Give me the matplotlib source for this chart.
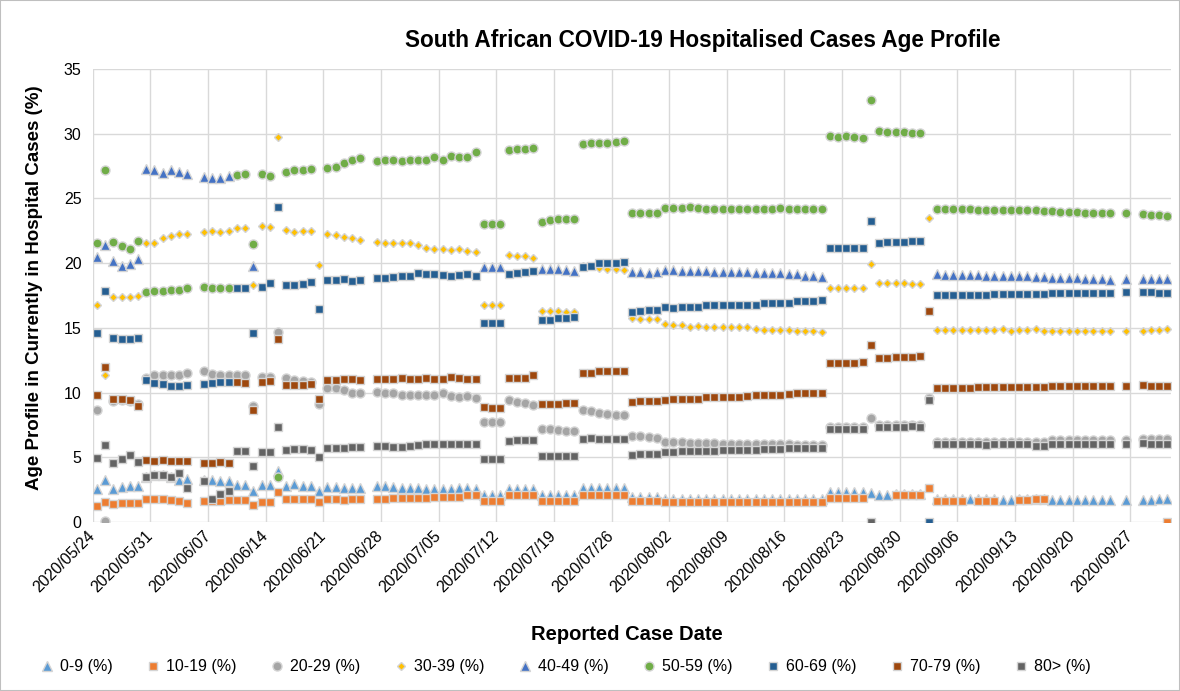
import numpy as np
import pandas as pd
import matplotlib
matplotlib.use("Agg")
import matplotlib.pyplot as plt
from matplotlib.patches import Rectangle

plt.rcParams['font.family'] = ['Liberation Sans', 'DejaVu Sans']

n = np.nan

# one value per day, 2020/05/24 .. 2020/10/01, rows are weeks
dates = pd.date_range('2020-05-24', '2020-10-01', freq='D')

age_0_9 = [
    2.56, 3.26, 2.54, 2.72, 2.77, 2.77, 3.45,
    3.60, 3.60, 3.50, 3.28, 3.33, n, 3.28,
    3.26, 3.20, 3.15, 2.87, 2.87, 2.38, 2.87,
    2.87, 3.93, 2.82, 2.92, 2.82, 2.82, 2.41,
    2.69, 2.69, 2.64, 2.64, 2.59, n, 2.77,
    2.82, 2.69, 2.59, 2.59, 2.59, 2.54, 2.54,
    2.54, 2.54, 2.59, 2.59, 2.54, 2.10, 2.10,
    2.10, 2.54, 2.54, 2.54, 2.54, 2.05, 2.05,
    2.05, 2.05, 2.05, 2.60, 2.60, 2.60, 2.60,
    2.60, 2.60, 1.90, 1.90, 1.90, 1.90, 1.75,
    1.75, 1.75, 1.75, 1.75, 1.75, 1.75, 1.75,
    1.75, 1.75, 1.75, 1.75, 1.75, 1.75, 1.75,
    1.75, 1.75, 1.75, 1.75, 1.75, 2.30, 2.30,
    2.30, 2.30, 2.30, 2.23, 2.05, 2.05, 2.15,
    2.15, 2.15, 2.15, n, 1.75, 1.75, 1.75,
    1.75, 1.74, 1.75, 1.75, 1.75, 1.71, 1.71,
    1.75, 1.75, 1.75, 1.75, 1.71, 1.71, 1.71,
    1.71, 1.71, 1.71, 1.71, 1.71, n, 1.71,
    n, 1.71, 1.71, 1.79, 1.79,
]

age_10_19 = [
    1.22, 1.58, 1.38, 1.50, 1.50, 1.43, 1.74,
    1.79, 1.74, 1.69, 1.63, 1.50, n, 1.63,
    1.63, 1.63, 1.69, 1.69, 1.69, 1.30, 1.58,
    1.58, 2.30, 1.74, 1.79, 1.79, 1.74, 1.58,
    1.74, 1.74, 1.69, 1.79, 1.79, n, 1.79,
    1.79, 1.84, 1.84, 1.84, 1.84, 1.84, 1.92,
    1.97, 1.92, 1.92, 2.12, 2.05, 1.63, 1.63,
    1.63, 2.05, 2.12, 2.05, 2.05, 1.63, 1.63,
    1.63, 1.63, 1.63, 2.10, 2.10, 2.10, 2.10,
    2.10, 2.10, 1.60, 1.60, 1.60, 1.60, 1.58,
    1.58, 1.58, 1.58, 1.58, 1.58, 1.58, 1.58,
    1.58, 1.58, 1.53, 1.58, 1.53, 1.53, 1.53,
    1.53, 1.53, 1.53, 1.53, 1.53, 1.89, 1.89,
    1.89, 1.89, 1.89, n, n, n, 2.05,
    2.05, 2.05, 2.05, 2.61, 1.60, 1.60, 1.60,
    1.60, n, 1.66, 1.66, 1.66, n, n,
    1.71, 1.71, 1.79, 1.79, n, n, n,
    n, n, n, n, n, n, n,
    n, n, n, n, 0.00,
]

age_20_29 = [
    8.64, 0.04, 9.35, 9.40, 9.35, 9.10, 11.10,
    11.32, 11.37, 11.37, 11.37, 11.50, n, 11.63,
    11.45, 11.37, 11.37, 11.32, 11.32, 9.00, 11.24,
    11.20, 14.67, 11.10, 11.00, 10.93, 10.85, 9.15,
    10.34, 10.34, 10.21, 9.98, 9.93, n, 10.06,
    9.98, 9.93, 9.85, 9.85, 9.80, 9.85, 9.80,
    9.98, 9.77, 9.64, 9.72, 9.59, 7.69, 7.69,
    7.69, 9.39, 9.28, 9.23, 9.05, 7.22, 7.15,
    7.09, 7.02, 7.02, 8.64, 8.59, 8.43, 8.38,
    8.30, 8.30, 6.68, 6.63, 6.55, 6.50, 6.17,
    6.17, 6.17, 6.12, 6.12, 6.12, 6.12, 6.06,
    6.06, 6.06, 6.06, 6.06, 6.00, 6.00, 6.00,
    6.00, 5.98, 5.98, 5.98, 5.95, 7.35, 7.35,
    7.35, 7.35, 7.35, 8.07, 7.50, 7.50, 7.50,
    7.50, 7.50, 7.50, 9.60, 6.20, 6.20, 6.20,
    6.20, 6.20, 6.20, 6.20, 6.20, 6.20, 6.20,
    6.20, 6.20, 6.20, 6.20, 6.30, 6.30, 6.30,
    6.30, 6.30, 6.30, 6.30, 6.30, n, 6.30,
    n, 6.45, 6.45, 6.45, 6.45,
]

age_30_39 = [
    16.80, 11.34, 17.37, 17.37, 17.37, 17.50, 21.58,
    21.58, 21.97, 22.10, 22.23, 22.23, n, 22.38,
    22.50, 22.43, 22.48, 22.70, 22.74, 18.30, 22.90,
    22.82, 29.77, 22.56, 22.38, 22.50, 22.50, 19.86,
    22.25, 22.17, 21.99, 21.97, 21.79, n, 21.60,
    21.58, 21.58, 21.53, 21.53, 21.40, 21.15, 21.10,
    21.10, 21.00, 21.07, 20.96, 20.89, 16.80, 16.80,
    16.80, 20.63, 20.55, 20.55, 20.37, 16.34, 16.34,
    16.34, 16.26, 16.26, 19.75, 19.75, 19.60, 19.55,
    19.55, 19.47, 15.75, 15.70, 15.70, 15.70, 15.26,
    15.23, 15.23, 15.10, 15.13, 15.10, 15.05, 15.05,
    15.05, 15.10, 15.10, 14.92, 14.87, 14.87, 14.82,
    14.82, 14.79, 14.74, 14.72, 14.69, 18.05, 18.05,
    18.05, 18.05, 18.05, 19.90, 18.44, 18.44, 18.44,
    18.44, 18.39, 18.39, 23.51, 14.87, 14.87, 14.87,
    14.87, 14.87, 14.87, 14.87, 14.87, 14.92, 14.79,
    14.87, 14.87, 14.92, 14.79, 14.79, 14.74, 14.74,
    14.74, 14.74, 14.79, 14.79, 14.79, n, 14.79,
    n, 14.74, 14.82, 14.82, 14.92,
]

age_40_49 = [
    20.45, 21.40, 20.20, 19.80, 19.93, 20.32, 27.25,
    27.20, 26.94, 27.20, 27.07, 26.86, n, 26.63,
    26.55, 26.60, 26.70, n, n, 19.80, n,
    n, n, n, n, n, n, n,
    n, n, n, n, n, n, n,
    n, n, n, n, n, n, n,
    n, n, n, n, n, 19.68, 19.68,
    19.68, n, n, n, n, 19.55, 19.55,
    19.55, 19.47, 19.42, n, n, n, n,
    n, n, 19.34, 19.29, 19.26, 19.34, 19.47,
    19.47, 19.42, 19.42, 19.42, 19.42, 19.34, 19.34,
    19.34, 19.34, 19.29, 19.21, 19.21, 19.21, 19.21,
    19.14, 19.14, 19.00, 18.98, 18.90, n, n,
    n, n, n, n, n, n, n,
    n, n, n, n, 19.14, 19.06, 19.06,
    19.06, 19.06, 19.06, 19.00, 19.00, 19.00, 19.00,
    19.00, 19.00, 18.96, 18.96, 18.83, 18.83, 18.83,
    18.83, 18.78, 18.78, 18.78, 18.70, n, 18.78,
    n, 18.78, 18.78, 18.78, 18.78,
]

age_50_59 = [
    21.53, 27.20, 21.63, 21.35, 21.07, 21.70, 17.80,
    17.85, 17.85, 17.90, 17.90, 18.10, n, 18.18,
    18.05, 18.05, 18.10, 26.80, 26.90, 21.50, 26.90,
    26.76, 3.46, 27.04, 27.20, 27.20, 27.30, n,
    27.38, 27.43, 27.70, 28.00, 28.12, n, 27.90,
    27.97, 28.00, 27.90, 28.00, 27.94, 27.94, 28.20,
    28.00, 28.24, 28.23, 28.23, 28.59, 23.00, 23.00,
    23.00, 28.74, 28.82, 28.82, 28.87, 23.20, 23.33,
    23.39, 23.39, 23.39, 29.18, 29.26, 29.31, 29.31,
    29.36, 29.44, 23.87, 23.85, 23.85, 23.85, 24.29,
    24.29, 24.29, 24.36, 24.29, 24.21, 24.21, 24.16,
    24.16, 24.16, 24.16, 24.21, 24.21, 24.21, 24.29,
    24.21, 24.21, 24.21, 24.21, 24.21, 29.82, 29.75,
    29.82, 29.75, 29.67, 32.60, 30.20, 30.13, 30.13,
    30.13, 30.08, 30.08, n, 24.21, 24.21, 24.21,
    24.16, 24.16, 24.08, 24.08, 24.08, 24.08, 24.08,
    24.08, 24.08, 24.08, 24.03, 24.03, 23.98, 23.98,
    23.98, 23.90, 23.90, 23.85, 23.85, n, 23.85,
    n, 23.77, 23.72, 23.72, 23.67,
]

age_60_69 = [
    14.59, 17.85, 14.20, 14.12, 14.12, 14.25, 11.00,
    10.73, 10.65, 10.52, 10.47, 10.55, n, 10.65,
    10.73, 10.78, 10.78, 18.10, 18.05, 14.60, 18.18,
    18.44, 24.30, 18.31, 18.31, 18.36, 18.52, 16.47,
    18.72, 18.72, 18.78, 18.60, 18.72, n, 18.83,
    18.83, 18.90, 19.00, 19.00, 19.26, 19.14, 19.14,
    19.08, 19.00, 19.08, 19.14, 19.00, 15.36, 15.40,
    15.40, 19.14, 19.21, 19.29, 19.37, 15.62, 15.62,
    15.75, 15.75, 15.85, 19.73, 19.81, 19.99, 20.04,
    20.04, 20.09, 16.26, 16.34, 16.39, 16.39, 16.60,
    16.54, 16.60, 16.60, 16.65, 16.73, 16.73, 16.73,
    16.73, 16.73, 16.80, 16.80, 16.93, 16.93, 16.93,
    16.93, 17.06, 17.06, 17.06, 17.14, 21.14, 21.14,
    21.14, 21.14, 21.14, 23.25, 21.58, 21.63, 21.63,
    21.63, 21.71, 21.71, 0.00, 17.55, 17.55, 17.55,
    17.55, 17.55, 17.55, 17.55, 17.60, 17.60, 17.60,
    17.60, 17.60, 17.60, 17.60, 17.72, 17.72, 17.72,
    17.72, 17.72, 17.72, 17.72, 17.72, n, 17.75,
    n, 17.75, 17.75, 17.70, 17.70,
]

age_70_79 = [
    9.82, 12.00, 9.49, 9.54, 9.41, 8.95, 4.80,
    4.75, 4.80, 4.75, 4.75, 4.75, n, 4.57,
    4.57, 4.65, 4.57, 10.80, 10.75, 8.66, 10.85,
    10.93, 14.15, 10.62, 10.62, 10.62, 10.70, 9.51,
    10.96, 10.96, 11.03, 11.03, 10.96, n, 11.03,
    11.03, 11.03, 11.16, 11.03, 11.03, 11.10, 11.03,
    11.03, 11.17, 11.11, 11.03, 11.03, 8.87, 8.82,
    8.82, 11.11, 11.11, 11.16, 11.34, 9.10, 9.10,
    9.10, 9.18, 9.23, 11.52, 11.52, 11.63, 11.68,
    11.68, 11.68, 9.31, 9.36, 9.36, 9.36, 9.44,
    9.49, 9.49, 9.54, 9.54, 9.62, 9.67, 9.67,
    9.67, 9.67, 9.75, 9.80, 9.80, 9.80, 9.80,
    9.87, 9.93, 9.93, 9.98, 9.93, 12.32, 12.32,
    12.32, 12.32, 12.40, 13.69, 12.66, 12.66, 12.73,
    12.73, 12.73, 12.79, 16.31, 10.34, 10.34, 10.34,
    10.34, 10.34, 10.42, 10.42, 10.42, 10.42, 10.42,
    10.42, 10.42, 10.42, 10.42, 10.54, 10.54, 10.54,
    10.54, 10.54, 10.54, 10.54, 10.54, n, 10.54,
    n, 10.62, 10.54, 10.54, 10.54,
]

age_80_plus = [
    4.93, 5.93, 4.57, 4.90, 5.14, 4.65, 3.44,
    3.64, 3.64, 3.50, 3.80, 2.66, n, 3.13,
    1.74, 2.20, 2.43, 5.45, 5.45, 4.34, 5.40,
    5.40, 7.33, 5.57, 5.63, 5.63, 5.57, 5.03,
    5.68, 5.68, 5.73, 5.80, 5.80, n, 5.88,
    5.88, 5.80, 5.80, 5.88, 5.93, 6.06, 6.06,
    6.00, 6.06, 6.06, 5.99, 6.06, 4.85, 4.85,
    4.85, 6.22, 6.30, 6.35, 6.35, 5.11, 5.11,
    5.11, 5.11, 5.11, 6.42, 6.50, 6.42, 6.42,
    6.42, 6.42, 5.16, 5.24, 5.29, 5.29, 5.40,
    5.40, 5.45, 5.45, 5.50, 5.50, 5.50, 5.55,
    5.60, 5.60, 5.60, 5.60, 5.65, 5.65, 5.65,
    5.71, 5.73, 5.73, 5.73, 5.73, 7.17, 7.17,
    7.17, 7.17, 7.22, 0.00, 7.35, 7.35, 7.35,
    7.35, 7.43, 7.35, 9.44, 5.99, 5.99, 5.99,
    5.99, 5.99, 5.99, 5.93, 5.99, 5.99, 5.99,
    5.99, 5.99, 5.91, 5.91, 6.06, 6.06, 6.06,
    6.06, 6.06, 6.06, 6.06, 6.06, n, 6.06,
    n, 6.12, 6.06, 6.06, 6.06,
]

series = [
    ('0-9 (%)', age_0_9, '^', '#5B9BD5', 6.5),
    ('10-19 (%)', age_10_19, 's', '#ED7D31', 6),
    ('20-29 (%)', age_20_29, 'o', '#A5A5A5', 6.5),
    ('30-39 (%)', age_30_39, 'D', '#FFC000', 4.5),
    ('40-49 (%)', age_40_49, '^', '#4472C4', 6.5),
    ('50-59 (%)', age_50_59, 'o', '#70AD47', 6.5),
    ('60-69 (%)', age_60_69, 's', '#255E91', 6),
    ('70-79 (%)', age_70_79, 's', '#9E480E', 6),
    ('80> (%)', age_80_plus, 's', '#636363', 6),
]

fig = plt.figure(figsize=(11.8, 6.91), dpi=100)
ax = fig.add_axes([92.7 / 1180, 1 - 522 / 691, (1171.5 - 92.7) / 1180, (522 - 69) / 691])

xpos = dates + pd.Timedelta(hours=12)
for label, vals, mk, col, ms in series:
    ax.plot(xpos, vals, linestyle='none', marker=mk, color=col, markersize=ms,
            markeredgecolor='#d4d4d4', markeredgewidth=1.0, label=label)

ax.set_ylim(0, 35)
ax.set_yticks(np.arange(0, 36, 5))
ax.set_xlim(pd.Timestamp('2020-05-24'), pd.Timestamp('2020-10-02'))
ticks = pd.date_range('2020-05-24', '2020-09-27', freq='7D')
ax.set_xticks(ticks)
ax.set_xticklabels([d.strftime('%Y/%m/%d') for d in ticks], rotation=45,
                   ha='right', va='center', rotation_mode='anchor')
ax.grid(True, color='#d9d9d9', linewidth=1.0)
ax.set_axisbelow(True)
for s in ax.spines.values():
    s.set_visible(False)
ax.tick_params(axis='both', length=0, labelsize=11.5, colors='black')
ax.tick_params(axis='x', pad=8)
ax.tick_params(axis='y', pad=8)

fig.text(703 / 1180, 1 - 40 / 691, 'South African COVID-19 Hospitalised Cases Age Profile',
         ha='center', va='center', fontsize=16.3, fontweight='bold')
fig.text(627 / 1180, 1 - 634 / 691, 'Reported Case Date', ha='center', va='center',
         fontsize=14.5, fontweight='bold')
fig.text(35 / 1180, 1 - 288 / 691, 'Age Profile in Currently in Hospital Cases (%)',
         ha='center', va='center', rotation=90, fontsize=13.5, fontweight='bold')

fig.legend(loc='center', bbox_to_anchor=(565 / 1180, 1 - 667 / 691), ncol=9,
           frameon=False, fontsize=11.5, handletextpad=0.3, columnspacing=2.05,
           handlelength=1.0, markerscale=1.0)

fig.patches.append(Rectangle((0, 0), 1, 1, transform=fig.transFigure, fill=False,
                             edgecolor='#bfbfbf', linewidth=1.5))

fig.savefig('out.png', dpi=100)
